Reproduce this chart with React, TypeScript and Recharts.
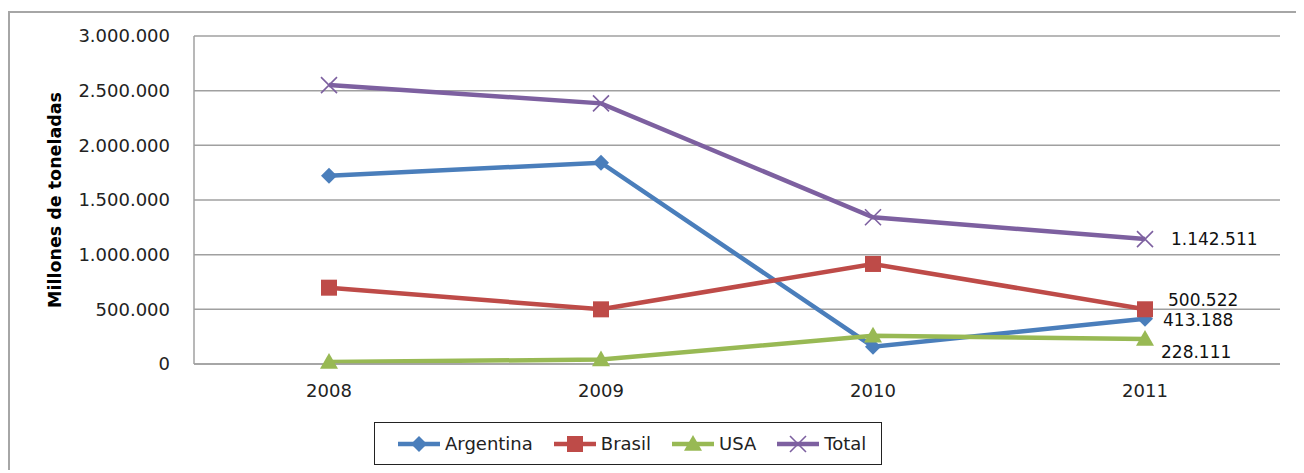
import React from 'react';
import { LineChart, Line, XAxis, YAxis, CartesianGrid } from 'recharts';

const years = ['2008', '2009', '2010', '2011'];
const argentina = [1722000, 1841000, 158000, 413188];
const brasil = [698000, 500000, 915000, 500522];
const usa = [18000, 41000, 259000, 228111];
const total = [2551000, 2384000, 1342000, 1142511];
const yTicks = [0, 500000, 1000000, 1500000, 2000000, 2500000, 3000000];
const yLabel = 'Millones de toneladas';

const data = years.map((y, i) => ({
  year: y,
  Argentina: argentina[i],
  Brasil: brasil[i],
  USA: usa[i],
  Total: total[i],
}));

const FONT = '"DejaVu Sans", Verdana, sans-serif';
const fmt = (n: number) => String(Math.round(n)).replace(/\B(?=(\d{3})+(?!\d))/g, '.');

const COLORS = {
  Argentina: '#4A7EBB',
  Brasil: '#BE4B48',
  USA: '#98B954',
  Total: '#7D60A0',
};

type Shape = 'diamond' | 'square' | 'triangle' | 'x';

const Marker = ({ cx, cy, shape, color }: { cx: number; cy: number; shape: Shape; color: string }) => {
  if (shape === 'diamond') {
    const r = 8;
    return <path d={`M${cx},${cy - r}L${cx + r},${cy}L${cx},${cy + r}L${cx - r},${cy}Z`} fill={color} />;
  }
  if (shape === 'square') {
    const r = 8;
    return <rect x={cx - r} y={cy - r} width={2 * r} height={2 * r} fill={color} />;
  }
  if (shape === 'triangle') {
    const r = 9;
    return <path d={`M${cx},${cy - r}L${cx + r},${cy + r * 0.75}L${cx - r},${cy + r * 0.75}Z`} fill={color} />;
  }
  const r = 8;
  return (
    <path
      d={`M${cx - r},${cy - r}L${cx + r},${cy + r}M${cx - r},${cy + r}L${cx + r},${cy - r}`}
      stroke={color}
      strokeWidth={1.6}
      fill="none"
    />
  );
};

const makeDot = (shape: Shape, color: string) => (props: any) => {
  const { cx, cy, index } = props;
  if (cx == null || cy == null) return <g key={`d-${index}`} />;
  return (
    <g key={`d-${shape}-${index}`}>
      <Marker cx={cx} cy={cy} shape={shape} color={color} />
    </g>
  );
};

const makeLabel = (dx: number, dy: number) => (props: any) => {
  const { x, y, value, index } = props;
  if (index !== years.length - 1) return null;
  return (
    <text
      x={x + dx}
      y={y + dy}
      dominantBaseline="central"
      fontFamily={FONT}
      fontSize={17}
      fill="#111"
    >
      {fmt(value)}
    </text>
  );
};

const series: { key: keyof typeof COLORS; shape: Shape; dx: number; dy: number }[] = [
  { key: 'Argentina', shape: 'diamond', dx: 18, dy: 1 },
  { key: 'Brasil', shape: 'square', dx: 23, dy: -9 },
  { key: 'USA', shape: 'triangle', dx: 16, dy: 13 },
  { key: 'Total', shape: 'x', dx: 26, dy: 0 },
];

const LegendIcon = ({ shape, color }: { shape: Shape; color: string }) => (
  <svg width={44} height={20} style={{ display: 'block' }}>
    <line x1={1} y1={10} x2={43} y2={10} stroke={color} strokeWidth={4.5} />
    <Marker cx={22} cy={10} shape={shape} color={color} />
  </svg>
);

export default function App() {
  return (
    <div style={{ position: 'relative', width: 1296, height: 462, overflow: 'hidden', background: '#fff' }}>
      <div
        style={{
          position: 'absolute',
          left: 0,
          top: 3,
          width: 1400,
          height: 600,
          border: '2px solid #a6a6a6',
          boxSizing: 'border-box',
        }}
      />
      <div style={{ position: 'absolute', left: 0, top: 0 }}>
        <LineChart width={1296} height={460} data={data} margin={{ top: 28, right: 24, bottom: 0, left: 0 }}>
          <CartesianGrid vertical={false} stroke="#a0a0a0" strokeWidth={1.5} />
          <XAxis
            dataKey="year"
            padding={{ left: 135, right: 135 }}
            axisLine={{ stroke: '#a0a0a0', strokeWidth: 1.5 }}
            tickLine={false}
            tickSize={0}
            tickMargin={20}
            height={104}
            tick={{ fontFamily: FONT, fontSize: 18, fill: '#222' }}
          />
          <YAxis
            width={186}
            domain={[0, 3000000]}
            ticks={yTicks}
            interval={0}
            tickFormatter={fmt}
            axisLine={{ stroke: '#a0a0a0', strokeWidth: 1.5 }}
            tickLine={false}
            tickSize={0}
            tickMargin={24}
            tick={{ fontFamily: FONT, fontSize: 18, fill: '#222' }}
            label={{
              value: yLabel,
              angle: -90,
              position: 'insideLeft',
              offset: 47,
              style: { fontFamily: FONT, fontSize: 17.5, fontWeight: 'bold', fill: '#000', textAnchor: 'middle' },
            }}
          />
          {series.map((s) => (
            <Line
              key={s.key}
              type="linear"
              dataKey={s.key}
              stroke={COLORS[s.key]}
              strokeWidth={4.5}
              dot={makeDot(s.shape, COLORS[s.key])}
              activeDot={false}
              isAnimationActive={false}
              label={makeLabel(s.dx, s.dy)}
            />
          ))}
        </LineChart>
      </div>
      <div
        style={{
          position: 'absolute',
          left: 366,
          top: 414,
          width: 508,
          height: 43,
          border: '1.5px solid #222',
          boxSizing: 'border-box',
          display: 'flex',
          alignItems: 'center',
          paddingLeft: 22,
          fontFamily: FONT,
          fontSize: 18,
          color: '#222',
        }}
      >
        {series.map((s) => (
          <div key={s.key} style={{ display: 'flex', alignItems: 'center', marginRight: 20 }}>
            <LegendIcon shape={s.shape} color={COLORS[s.key]} />
            <span style={{ marginLeft: 4 }}>{s.key}</span>
          </div>
        ))}
      </div>
    </div>
  );
}
